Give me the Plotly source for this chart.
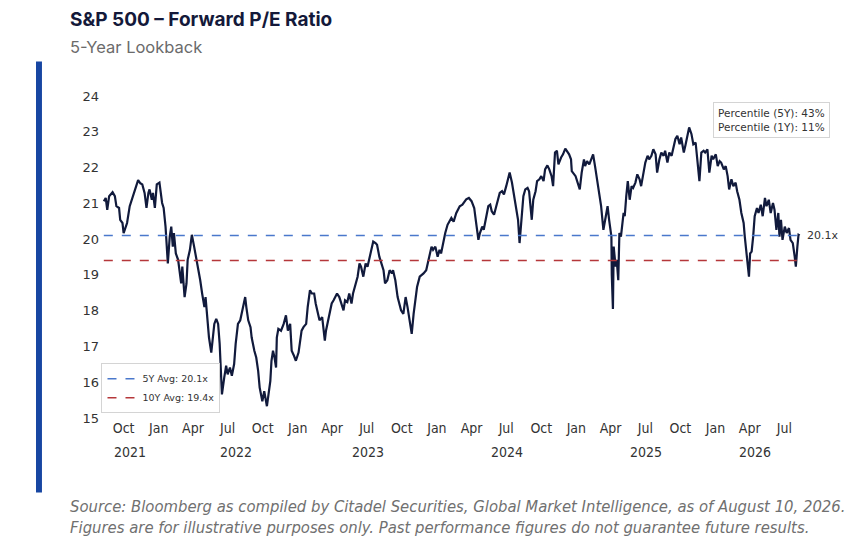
import plotly.graph_objs as go

# forward P/E (approx. every few trading days)
dates = [
    '2021-08-10', '2021-08-15', '2021-08-19', '2021-08-24', '2021-09-02', '2021-09-08', '2021-09-12', '2021-09-19',
    '2021-09-22', '2021-09-28', '2021-10-01', '2021-10-06', '2021-10-10', '2021-10-17', '2021-10-24', '2021-11-02',
    '2021-11-08', '2021-11-14', '2021-11-19', '2021-11-25', '2021-11-30', '2021-12-05', '2021-12-08', '2021-12-14',
    '2021-12-17', '2021-12-22', '2021-12-27',
    '2022-01-03', '2022-01-06', '2022-01-10', '2022-01-14', '2022-01-19', '2022-01-25', '2022-01-30', '2022-02-03',
    '2022-02-07', '2022-02-10', '2022-02-15', '2022-02-21', '2022-02-25', '2022-03-01', '2022-03-04', '2022-03-10',
    '2022-03-15', '2022-03-18', '2022-03-24', '2022-03-29', '2022-04-04', '2022-04-11', '2022-04-15', '2022-04-20',
    '2022-04-25', '2022-05-01', '2022-05-04', '2022-05-09', '2022-05-13', '2022-05-19', '2022-05-23', '2022-05-27',
    '2022-06-01', '2022-06-06', '2022-06-10', '2022-06-13', '2022-06-16', '2022-06-22', '2022-06-27', '2022-07-01',
    '2022-07-07', '2022-07-12', '2022-07-18', '2022-07-22', '2022-07-28', '2022-08-03', '2022-08-08', '2022-08-16',
    '2022-08-19', '2022-08-24', '2022-08-30', '2022-09-02', '2022-09-09', '2022-09-14', '2022-09-19', '2022-09-23',
    '2022-09-30', '2022-10-05', '2022-10-12', '2022-10-17', '2022-10-21', '2022-10-24', '2022-10-28', '2022-11-01',
    '2022-11-05', '2022-11-07', '2022-11-11', '2022-11-18', '2022-11-25', '2022-12-01', '2022-12-06', '2022-12-12',
    '2022-12-16', '2022-12-22', '2022-12-27',
    '2023-01-03', '2023-01-06', '2023-01-11', '2023-01-16', '2023-01-23', '2023-01-27', '2023-02-02', '2023-02-07',
    '2023-02-13', '2023-02-17', '2023-02-22', '2023-02-27', '2023-03-06', '2023-03-13', '2023-03-16', '2023-03-20',
    '2023-03-24', '2023-03-31', '2023-04-05', '2023-04-10', '2023-04-14', '2023-04-20', '2023-04-25', '2023-05-01',
    '2023-05-05', '2023-05-11', '2023-05-16', '2023-05-22', '2023-05-26', '2023-06-02', '2023-06-07', '2023-06-12',
    '2023-06-16', '2023-06-22', '2023-06-28', '2023-07-03', '2023-07-07', '2023-07-13', '2023-07-18', '2023-07-24',
    '2023-07-28', '2023-08-03', '2023-08-09', '2023-08-14', '2023-08-18', '2023-08-24', '2023-08-30', '2023-09-05',
    '2023-09-08', '2023-09-14', '2023-09-20', '2023-09-25', '2023-09-29', '2023-10-05', '2023-10-11', '2023-10-16',
    '2023-10-20', '2023-10-27', '2023-11-01', '2023-11-06', '2023-11-10', '2023-11-17', '2023-11-22', '2023-11-27',
    '2023-12-04', '2023-12-08', '2023-12-13', '2023-12-18', '2023-12-22', '2023-12-28',
    '2024-01-03', '2024-01-08', '2024-01-12', '2024-01-18', '2024-01-23', '2024-01-29', '2024-02-08', '2024-02-14',
    '2024-02-21', '2024-03-01', '2024-03-08', '2024-03-18', '2024-03-25', '2024-04-01', '2024-04-08', '2024-04-12',
    '2024-04-19', '2024-04-23', '2024-04-29', '2024-05-03', '2024-05-09', '2024-05-15', '2024-05-20', '2024-05-24',
    '2024-05-30', '2024-06-05', '2024-06-10', '2024-06-14', '2024-06-20', '2024-06-25', '2024-07-01', '2024-07-05',
    '2024-07-10', '2024-07-16', '2024-07-22', '2024-07-26', '2024-08-01', '2024-08-05', '2024-08-09', '2024-08-15',
    '2024-08-20', '2024-08-26', '2024-08-30', '2024-09-06', '2024-09-10', '2024-09-16', '2024-09-20', '2024-09-26',
    '2024-10-01', '2024-10-07', '2024-10-11', '2024-10-17', '2024-10-22', '2024-10-28', '2024-11-01', '2024-11-06',
    '2024-11-11', '2024-11-15', '2024-11-22', '2024-11-27', '2024-12-03', '2024-12-09', '2024-12-13', '2024-12-18',
    '2024-12-20', '2024-12-30',
    '2025-01-03', '2025-01-10', '2025-01-15', '2025-01-21', '2025-01-24', '2025-01-29', '2025-02-04', '2025-02-10',
    '2025-02-14', '2025-02-19', '2025-02-25', '2025-03-03', '2025-03-07', '2025-03-13', '2025-03-18', '2025-03-24',
    '2025-03-28', '2025-04-03', '2025-04-04', '2025-04-07', '2025-04-09', '2025-04-14', '2025-04-17', '2025-04-21',
    '2025-04-24', '2025-04-28', '2025-05-05', '2025-05-08', '2025-05-12', '2025-05-16', '2025-05-21', '2025-05-26',
    '2025-05-30', '2025-06-05', '2025-06-10', '2025-06-16', '2025-06-20', '2025-06-26', '2025-07-01', '2025-07-07',
    '2025-07-11', '2025-07-17', '2025-07-22', '2025-07-28', '2025-08-01', '2025-08-07', '2025-08-12', '2025-08-18',
    '2025-08-22', '2025-08-28', '2025-09-02', '2025-09-08', '2025-09-12', '2025-09-18', '2025-09-23', '2025-09-29',
    '2025-10-03', '2025-10-10', '2025-10-14', '2025-10-20', '2025-10-24', '2025-10-30', '2025-11-04', '2025-11-10',
    '2025-11-14', '2025-11-20', '2025-11-25', '2025-12-01', '2025-12-05', '2025-12-11', '2025-12-16', '2025-12-22',
    '2025-12-26',
    '2026-01-02', '2026-01-07', '2026-01-12', '2026-01-16', '2026-01-23', '2026-01-28', '2026-02-02', '2026-02-06',
    '2026-02-12', '2026-02-17', '2026-02-23', '2026-02-27', '2026-03-05', '2026-03-10', '2026-03-16', '2026-03-19',
    '2026-03-23', '2026-03-26', '2026-03-30', '2026-04-02', '2026-04-06', '2026-04-10', '2026-04-14', '2026-04-20',
    '2026-04-24', '2026-04-30', '2026-05-05', '2026-05-11', '2026-05-15', '2026-05-21', '2026-05-26', '2026-06-01',
    '2026-06-05', '2026-06-10', '2026-06-15', '2026-06-18', '2026-06-22', '2026-06-26', '2026-07-02', '2026-07-07',
    '2026-07-13', '2026-07-17', '2026-07-23', '2026-07-28', '2026-07-31', '2026-08-04', '2026-08-07', '2026-08-10',
]
pe = [
    21.06, 21.15, 20.82, 21.20, 21.31, 21.20, 20.92, 20.87,
    20.54, 20.45, 20.17, 20.31, 20.45, 20.92, 21.15, 21.39,
    21.65, 21.56, 21.53, 21.29, 20.87, 21.29, 21.39, 21.10,
    21.29, 20.87, 21.53,
    21.58, 21.29, 21.01, 20.87, 20.35, 19.32, 20.07, 20.35,
    19.79, 20.17, 19.60, 19.42, 19.13, 18.76, 19.23, 18.38,
    18.76, 19.42, 19.70, 20.12, 19.79, 19.42, 19.13, 18.85,
    18.48, 18.10, 18.38, 17.73, 17.25, 16.83, 17.35, 17.63,
    17.77, 17.63, 17.07, 16.32, 15.66, 16.13, 16.46, 16.22,
    16.41, 16.18, 16.51, 17.07, 17.63, 17.73, 18.01, 18.38,
    18.10, 17.73, 17.54, 17.25, 16.88, 16.69, 16.32, 15.85,
    15.47, 15.75, 15.33, 15.75, 16.04, 16.60, 16.88, 16.69,
    16.41, 17.25, 17.49, 17.44, 17.63, 17.87, 17.44, 17.63,
    16.88, 16.74, 16.60,
    16.83, 17.07, 17.44, 17.54, 17.63, 18.10, 18.57, 18.48,
    18.48, 18.20, 17.91, 17.73, 17.82, 17.16, 17.44, 17.63,
    17.82, 18.20, 18.29, 18.38, 18.48, 18.38, 18.20, 18.01,
    18.29, 18.24, 18.48, 18.20, 18.48, 18.76, 18.95, 19.32,
    19.23, 18.95, 19.32, 19.23, 19.42, 19.70, 19.93, 19.89,
    19.84, 19.51, 19.32, 19.13, 18.76, 18.85, 19.13, 19.04,
    19.13, 18.85, 18.38, 18.20, 18.01, 17.91, 18.38, 18.10,
    17.82, 17.35, 17.91, 18.38, 18.66, 18.95, 18.99, 19.04,
    19.13, 19.32, 19.60, 19.79, 19.70, 19.79,
    19.51, 19.70, 19.60, 19.98, 20.17, 20.40, 20.59, 20.49,
    20.73, 20.92, 20.96, 21.11, 21.15, 21.06, 20.87, 20.54,
    19.98, 20.17, 20.35, 20.26, 20.64, 20.92, 20.96, 20.78,
    20.68, 20.92, 21.06, 21.29, 21.34, 21.25, 21.48, 21.67,
    21.86, 21.58, 21.20, 20.92, 20.54, 19.89, 20.45, 21.20,
    21.39, 21.43, 21.34, 20.54, 21.10, 21.34, 21.62, 21.67,
    21.76, 21.62, 21.95, 22.06, 21.95, 21.76, 21.48, 22.42,
    22.47, 22.09, 22.28, 22.37, 22.53, 22.42, 22.37, 22.23,
    21.90, 21.76,
    21.62, 21.39, 21.86, 22.23, 22.04, 22.18, 22.09, 22.28,
    22.37, 22.04, 21.58, 21.20, 20.92, 20.26, 20.54, 20.92,
    20.54, 20.07, 19.00, 18.05, 19.79, 19.23, 19.42, 18.85,
    20.17, 20.07, 20.73, 20.64, 21.20, 21.62, 21.10, 21.48,
    21.43, 21.58, 21.81, 21.67, 21.48, 21.86, 22.14, 22.33,
    22.23, 22.33, 22.51, 22.37, 21.86, 22.23, 22.42, 22.33,
    22.47, 22.14, 22.42, 22.33, 22.56, 22.80, 22.89, 22.65,
    22.84, 22.42, 22.61, 22.89, 23.12, 22.94, 22.65, 22.70,
    22.33, 21.62, 22.42, 22.47, 22.42, 22.51, 21.86, 22.33,
    22.23,
    22.37, 22.04, 22.18, 22.14, 21.95, 22.04, 21.76, 21.39,
    21.67, 21.48, 21.58, 21.34, 21.10, 20.73, 20.45, 20.07,
    19.60, 19.32, 18.95, 19.60, 19.65, 20.07, 20.64, 20.87,
    20.73, 20.96, 20.64, 21.15, 20.92, 21.10, 20.73, 21.01,
    20.82, 20.26, 20.73, 20.07, 20.54, 19.98, 20.35, 20.17,
    20.31, 19.98, 19.89, 19.51, 19.23, 19.79, 20.12, 20.10,
]

avg_5y = 20.1
avg_10y = 19.4
pct_5y = 43
pct_1y = 11

tick_dates = ['2021-10-01', '2022-01-01', '2022-04-01', '2022-07-01', '2022-10-01', '2023-01-01', '2023-04-01',
              '2023-07-01', '2023-10-01', '2024-01-01', '2024-04-01', '2024-07-01', '2024-10-01', '2025-01-01',
              '2025-04-01', '2025-07-01', '2025-10-01', '2026-01-01', '2026-04-01', '2026-07-01']
tick_text = ['Oct', 'Jan', 'Apr', 'Jul', 'Oct', 'Jan', 'Apr', 'Jul', 'Oct', 'Jan',
             'Apr', 'Jul', 'Oct', 'Jan', 'Apr', 'Jul', 'Oct', 'Jan', 'Apr', 'Jul']
year_text = ['2021', '2022', '2023', '2024', '2025', '2026']
year_dates = ['2021-10-19', '2022-07-22', '2023-07-03', '2024-07-02', '2025-07-02', '2026-04-14']

navy = '#111a3c'
blue = '#4a78cc'
red = '#b5373a'
narrow = 'Liberation Sans Narrow, DejaVu Sans Condensed, Arial Narrow, sans-serif'
dejavu = 'DejaVu Sans, sans-serif'

trace_pe = go.Scatter(
    x = dates,
    y = pe,
    mode = 'lines',
    line = dict(color = navy, width = 2.2),
    showlegend = False,
    hoverinfo = 'skip'
)

trace_5y = go.Scatter(
    x = [dates[0], dates[-1]],
    y = [avg_5y, avg_5y],
    mode = 'lines',
    name = '5Y Avg: %.1fx' % avg_5y,
    line = dict(color = blue, width = 1.5, dash = 'dash')
)

trace_10y = go.Scatter(
    x = [dates[0], dates[-1]],
    y = [avg_10y, avg_10y],
    mode = 'lines',
    name = '10Y Avg: %.1fx' % avg_10y,
    line = dict(color = red, width = 1.5, dash = 'dash')
)

annotations = []
for yt, yd in zip(year_text, year_dates):
    annotations.append(dict(x = yd, y = -0.106, xref = 'x', yref = 'paper', text = yt,
                            showarrow = False, xanchor = 'center', yanchor = 'middle',
                            font = dict(family = narrow, size = 14, color = '#333333')))

# end label
annotations.append(dict(x = dates[-1], y = avg_5y, xref = 'x', yref = 'y', text = '%.1fx' % avg_5y,
                        showarrow = False, xanchor = 'left', xshift = 5,
                        font = dict(family = dejavu, size = 11, color = '#333333')))

# percentile box
annotations.append(dict(x = 0.902, y = 0.925, xref = 'paper', yref = 'paper',
                        xanchor = 'center', yanchor = 'middle',
                        text = 'Percentile (5Y): %d%%<br>Percentile (1Y): %d%%' % (pct_5y, pct_1y),
                        showarrow = False, align = 'left', bgcolor = 'white',
                        bordercolor = '#d4d4d4', borderwidth = 1, borderpad = 4,
                        font = dict(family = dejavu, size = 10.5, color = '#333333')))

# titles and footnote
annotations.append(dict(x = -0.043, y = 1.238, xref = 'paper', yref = 'paper', xanchor = 'left', yanchor = 'middle',
                        text = '<b>S&P 500 – Forward P/E Ratio</b>', showarrow = False,
                        font = dict(family = 'Inter, Roboto, sans-serif', size = 19, color = '#14193a')))
annotations.append(dict(x = -0.043, y = 1.151, xref = 'paper', yref = 'paper', xanchor = 'left', yanchor = 'middle',
                        text = '5-Year Lookback', showarrow = False,
                        font = dict(family = 'Inter, Roboto, sans-serif', size = 16.5, color = '#6b6b6b')))
annotations.append(dict(x = -0.043, y = -0.307, xref = 'paper', yref = 'paper', xanchor = 'left', yanchor = 'middle',
                        text = '<i>Source: Bloomberg as compiled by Citadel Securities, Global Market Intelligence, '
                               'as of August 10, 2026.<br>Figures are for illustrative purposes only. Past performance '
                               'figures do not guarantee future results.</i>',
                        showarrow = False, align = 'left',
                        font = dict(family = narrow, size = 16.5, color = '#707070')))

layout_dict = dict(
    width = 865,
    height = 545,
    margin = dict(l = 92, r = 28, t = 88, b = 135),
    paper_bgcolor = 'white',
    plot_bgcolor = 'white',
    xaxis = dict(type = 'date', range = ['2021-07-31', '2026-12-07'],
                 tickvals = tick_dates, ticktext = tick_text,
                 showgrid = False, zeroline = False, showline = False, ticks = '',
                 tickfont = dict(family = narrow, size = 14, color = '#333333')),
    yaxis = dict(range = [15, 24], tickvals = list(range(15, 25)),
                 showgrid = False, zeroline = False, showline = False, ticks = '',
                 tickfont = dict(family = dejavu, size = 13, color = '#333333')),
    legend = dict(x = 0.002, y = 0.17, xanchor = 'left', yanchor = 'top',
                  bgcolor = 'rgba(255,255,255,0.8)', bordercolor = '#d4d4d4', borderwidth = 1,
                  itemwidth = 30, tracegroupgap = 0,
                  font = dict(family = dejavu, size = 9.5, color = '#333333')),
    shapes = [dict(type = 'rect', xref = 'paper', yref = 'paper',
                   x0 = -0.0859, x1 = -0.0779, y0 = -0.231, y1 = 1.107,
                   fillcolor = '#1746a2', line = dict(width = 0))],
    annotations = annotations
)

fig = go.Figure(data = [trace_pe, trace_5y, trace_10y], layout = layout_dict)
fig.write_html('out.html')
